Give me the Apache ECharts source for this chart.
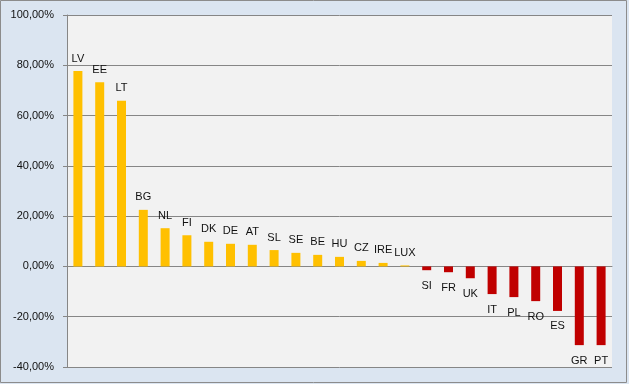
<!DOCTYPE html>
<html>
<head>
<meta charset="utf-8">
<script src="https://cdn.jsdelivr.net/npm/echarts@6/dist/echarts.min.js"></script>
<style>
html,body{margin:0;padding:0;background:#dbe5f1;}
#chart{width:629px;height:384px;}
</style>
</head>
<body>
<div id="chart"></div>
<script>
const categories = ['LV','EE','LT','BG','NL','FI','DK','DE','AT','SL','SE','BE','HU','CZ','IRE','LUX','SI','FR','UK','IT','PL','RO','ES','GR','PT'];
const values = [77.7,73.3,65.9,22.5,15.2,12.4,9.8,9.0,8.6,6.5,5.4,4.6,3.8,2.2,1.4,0.4,-1.5,-2.3,-4.7,-11.0,-12.2,-13.8,-17.7,-31.3,-31.3];
const yTicks = {min:-40, max:100, interval:20};
const posColor = '#FFC000';
const negColor = '#C00000';

const chart = echarts.init(document.getElementById('chart'), null, {renderer:'canvas'});
const data = values.map((v,i)=>({
  value: v,
  name: categories[i],
  itemStyle: {color: v >= 0 ? posColor : negColor},
  label: v >= 0 ? {position:'top', distance:7} : {position:'bottom', distance:10}
}));
chart.setOption({
  backgroundColor: '#dbe5f1',
  animation: false,
  grid: {left:67, right:17, top:15, bottom:17, show:true, backgroundColor:'#f2f2f2', borderWidth:0},
  graphic: [{
    type:'rect', silent:true, z:100,
    shape:{x:0.5,y:0.5,width:626,height:382},
    style:{fill:'none', stroke:'#8c8c8c', lineWidth:1}
  }],
  xAxis: {
    type:'category', data: categories,
    axisLine:{show:true, onZero:true, lineStyle:{color:'#868686', width:1}},
    axisTick:{show:false}, axisLabel:{show:false}, splitLine:{show:false}
  },
  yAxis: {
    type:'value', min:yTicks.min, max:yTicks.max, interval:yTicks.interval,
    axisLine:{show:true, lineStyle:{color:'#868686'}},
    axisTick:{show:true, length:4, lineStyle:{color:'#868686'}},
    axisLabel:{margin:13, color:'#111', fontFamily:'Liberation Sans', fontSize:11,
      formatter: v => v.toFixed(2).replace('.', ',') + '%'},
    splitLine:{show:true, lineStyle:{color:'#868686', width:1}}
  },
  series: [{
    type:'bar', data: data, barWidth:9,
    label:{show:true, formatter: p => p.name, color:'#111', fontFamily:'Liberation Sans', fontSize:11}
  }]
});
</script>
</body>
</html>
